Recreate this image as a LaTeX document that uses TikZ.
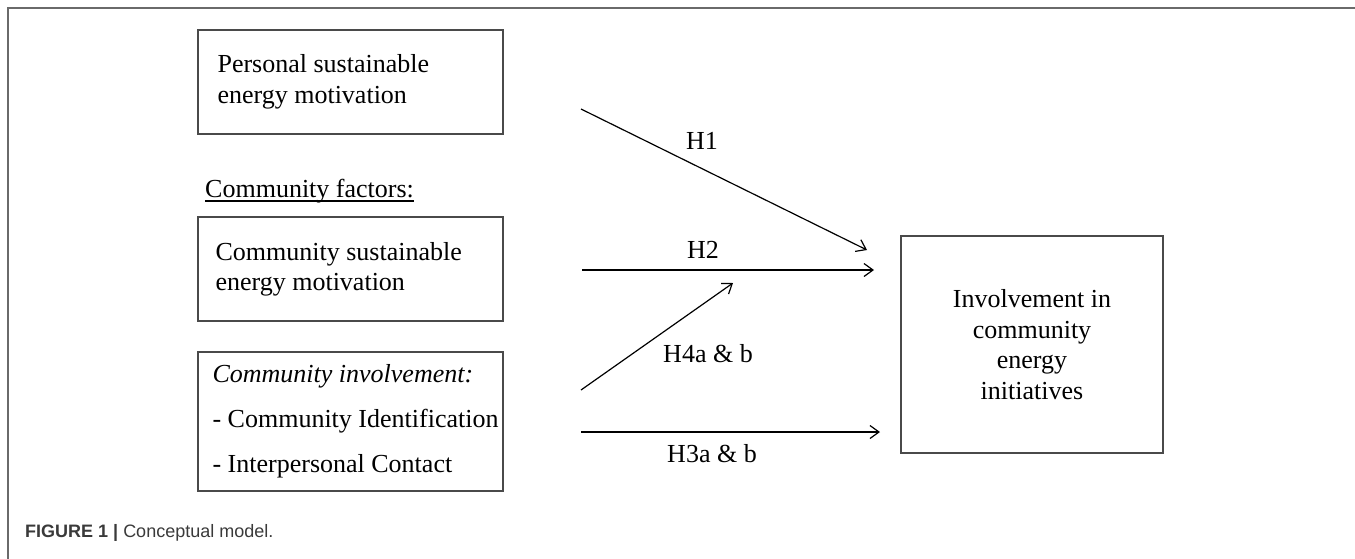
\documentclass[tikz,border=0pt]{standalone}
\usepackage{fontspec}
\setmainfont{Liberation Serif}
\setsansfont{Liberation Sans}
\usetikzlibrary{arrows.meta}
\definecolor{framecol}{HTML}{6A6A6A}
\definecolor{boxcol}{HTML}{4A4A4A}
\definecolor{capcol}{HTML}{3A3A3A}
\begin{document}
\begin{tikzpicture}[x=1pt,y=-1pt,
  box/.style={draw=boxcol, line width=1.3pt, inner sep=0pt},
  txt/.style={inner sep=0pt, font=\fontsize{26}{31}\selectfont, align=left},
  lab/.style={inner sep=0pt, anchor=base, font=\fontsize{26}{31}\selectfont},
  arr/.style={line width=1.2pt, -{Straight Barb[length=9pt,width=13pt,line width=1.2pt]}}
]
\useasboundingbox (0,0) rectangle (1355,558);
% frame
\draw[framecol, line width=1.6pt] (8,560) -- (8,8) -- (1356,8);
% boxes
\node[box, minimum width=305pt, minimum height=104pt] (b1) at (350.5,82) {};
\node[txt, anchor=west] (t1) at ([xshift=20pt]b1.west) {Personal sustainable\\energy motivation};
\node[inner sep=0pt, anchor=base west, font=\fontsize{26}{31}\selectfont] (cf) at (205,197) {Community factors:};
\draw[line width=1.1pt] ([yshift=-4pt]cf.base west) -- ([yshift=-4pt]cf.base east);
\node[box, minimum width=305pt, minimum height=104pt] (b2) at (350.5,269) {};
\node[txt, anchor=west, font=\fontsize{26}{30}\selectfont] (t2) at ([xshift=18pt]b2.west) {Community sustainable\\energy motivation};
\node[box, minimum width=305pt, minimum height=139pt] (b3) at (350.5,421.5) {};
\node[txt, anchor=west, font=\fontsize{26}{45}\selectfont] (t3) at ([xshift=15pt]b3.west) {\textit{Community involvement:}\\- Community Identification\\- Interpersonal Contact};
\node[box, minimum width=262pt, minimum height=217pt, align=center, font=\fontsize{26}{30.7}\selectfont] (b4) at (1032,344.5) {Involvement in\\community\\energy\\initiatives};
% arrow end points
\coordinate (s1) at (581,109); \coordinate (e1) at (867,250);
\coordinate (s2) at (582,270); \coordinate (e2) at (874,270);
\coordinate (s4) at (581,390); \coordinate (e4) at (733,283);
\coordinate (s3) at (581,432); \coordinate (e3) at (880,432);
\draw[arr] (s1) -- (e1);
\draw[arr] (s2) -- (e2);
\draw[arr] (s4) -- (e4);
\draw[arr] (s3) -- (e3);
% labels
\node[lab] (l1) at (702,149) {H1};
\node[lab] (l2) at (703,258) {H2};
\node[lab] (l4) at (708,362) {H4a \& b};
\node[lab] (l3) at (712,462) {H3a \& b};
% caption
\node[inner sep=0pt, anchor=base west, text=capcol, font=\fontsize{18}{20}\selectfont\sffamily] (cap) at (25,537) {\textbf{FIGURE 1 |} Conceptual model.};
\end{tikzpicture}
\end{document}
